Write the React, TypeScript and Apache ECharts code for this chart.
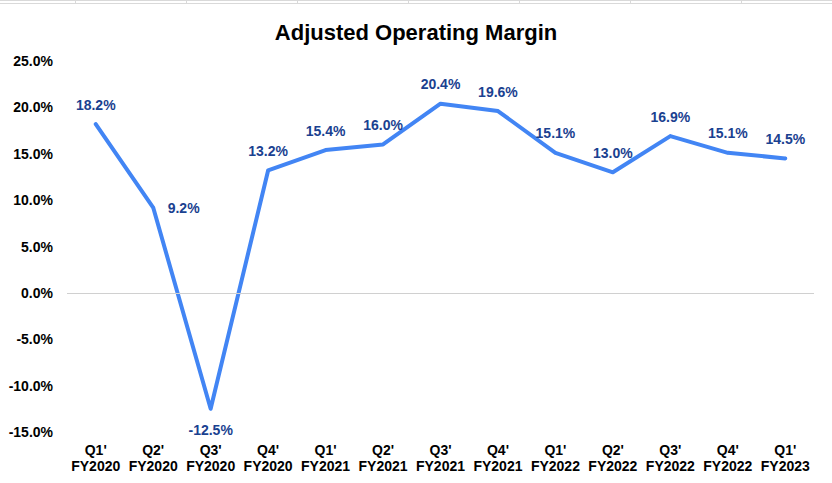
import React, { useEffect, useRef } from "react";
import * as echarts from "echarts";

const categories = [
  "Q1'\nFY2020", "Q2'\nFY2020", "Q3'\nFY2020", "Q4'\nFY2020",
  "Q1'\nFY2021", "Q2'\nFY2021", "Q3'\nFY2021", "Q4'\nFY2021",
  "Q1'\nFY2022", "Q2'\nFY2022", "Q3'\nFY2022", "Q4'\nFY2022",
  "Q1'\nFY2023",
];
const margins = [18.2, 9.2, -12.5, 13.2, 15.4, 16.0, 20.4, 19.6, 15.1, 13.0, 16.9, 15.1, 14.5];
const labelPositions = ["top", "right", "bottom", "top", "top", "top", "top", "top", "top", "top", "top", "top", "top"];
const yMin = -15;
const yMax = 25;
const yStep = 5;

const FONT = "'Liberation Sans', Arial, sans-serif";

export default function App() {
  const ref = useRef<HTMLDivElement>(null);
  useEffect(() => {
    document.body.style.margin = "0";
    if (!ref.current) return;
    const chart = echarts.init(ref.current, null, { renderer: "svg" });
    const gridLineXs = [75, 186, 297, 408, 519, 630, 741];
    const distances: Record<string, number> = { top: 11, right: 13, bottom: 13 };
    chart.setOption({
      animation: false,
      backgroundColor: "#ffffff",
      title: {
        text: "Adjusted Operating Margin",
        left: "center",
        top: 16,
        textStyle: { fontFamily: FONT, fontWeight: "bold", fontSize: 22, color: "#000000" },
      },
      grid: { left: 67, right: 18, top: 61, bottom: 51, containLabel: false },
      xAxis: {
        type: "category",
        data: categories,
        boundaryGap: true,
        axisLine: { show: false },
        axisTick: { show: false },
        axisLabel: {
          interval: 0,
          margin: 10,
          fontFamily: FONT,
          fontWeight: "bold",
          fontSize: 14,
          lineHeight: 16,
          color: "#000000",
        },
      },
      yAxis: {
        type: "value",
        min: yMin,
        max: yMax,
        interval: yStep,
        axisLine: { show: false },
        axisTick: { show: false },
        splitLine: { show: false },
        axisLabel: {
          margin: 14,
          fontFamily: FONT,
          fontWeight: "bold",
          fontSize: 14,
          color: "#000000",
          formatter: (v: number) => v.toFixed(1) + "%",
        },
      },
      graphic: [
        { type: "line", shape: { x1: 0, y1: 0.5, x2: 832, y2: 0.5 }, style: { stroke: "#d9d9d9", lineWidth: 1 }, silent: true },
        { type: "line", shape: { x1: 0, y1: 3.5, x2: 832, y2: 3.5 }, style: { stroke: "#d9d9d9", lineWidth: 1 }, silent: true },
        ...gridLineXs.map((x) => ({
          type: "line",
          shape: { x1: x + 0.5, y1: 0, x2: x + 0.5, y2: 3 },
          style: { stroke: "#d9d9d9", lineWidth: 1 },
          silent: true,
        })),
      ],
      series: [
        {
          type: "line",
          data: margins.map((v, i) => ({
            value: v,
            label: { position: labelPositions[i], distance: distances[labelPositions[i]] },
          })),
          symbol: "circle",
          symbolSize: 3,
          showSymbol: true,
          lineStyle: { color: "#4285f4", width: 4, cap: "round", join: "round" },
          itemStyle: { color: "#4285f4" },
          label: {
            show: true,
            distance: 11,
            fontFamily: FONT,
            fontWeight: "bold",
            fontSize: 14,
            color: "#1a4190",
            formatter: (p: any) => Number(p.value).toFixed(1) + "%",
          },
          markLine: {
            silent: true,
            symbol: "none",
            label: { show: false },
            lineStyle: { color: "#d0d0d0", width: 1, type: "solid" },
            data: [{ yAxis: 0 }],
          },
        },
      ],
    });
    return () => chart.dispose();
  }, []);
  return <div ref={ref} style={{ width: 832, height: 483 }} />;
}
